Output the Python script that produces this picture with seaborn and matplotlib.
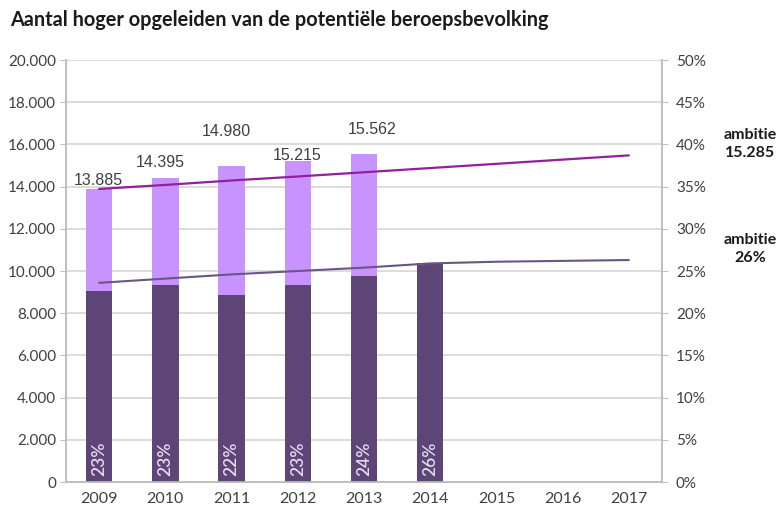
import numpy as np
import pandas as pd
import seaborn as sns
import matplotlib.pyplot as plt
from matplotlib.ticker import FixedLocator

# Gegevens
jaren = ['2009', '2010', '2011', '2012', '2013', '2014', '2015', '2016', '2017']
aantal_jaren = ['2009', '2010', '2011', '2012', '2013']
aantal = [13885, 14395, 14980, 15215, 15562]
aantal_labels = ['13.885', '14.395', '14.980', '15.215', '15.562']
aandeel_jaren = ['2009', '2010', '2011', '2012', '2013', '2014']
aandeel = [22.6, 23.4, 22.2, 23.4, 24.4, 26.0]
aandeel_labels = ['23%', '23%', '22%', '23%', '24%', '26%']
ambitie_aantal = [13890, 14080, 14290, 14480, 14680, 14880, 15080, 15280, 15480]
ambitie_aandeel = [23.6, 24.1, 24.6, 25.0, 25.4, 25.9, 26.1, 26.2, 26.3]
links_ticks = [0, 2000, 4000, 6000, 8000, 10000, 12000, 14000, 16000, 18000, 20000]
links_labels = ['0', '2.000', '4.000', '6.000', '8.000', '10.000', '12.000',
                '14.000', '16.000', '18.000', '20.000']
rechts_ticks = [0, 5, 10, 15, 20, 25, 30, 35, 40, 45, 50]
rechts_labels = ['0%', '5%', '10%', '15%', '20%', '25%', '30%', '35%', '40%', '45%', '50%']

# Positie van de waardelabels boven de lichte staven (punten)
label_offsets = [(-0.7, 5.8), (-3.6, 11.5), (-3.6, 25), (-0.7, 4.3), (5.8, 17.3)]

sns.set_style('white')
plt.rcParams['font.family'] = ['Lato', 'DejaVu Sans']

licht = '#c993ff'
donker = '#5d4577'
magenta = '#931f9c'
lijn_donker = '#6b5585'
grijs = '#404040'

df_aantal = pd.DataFrame({'jaar': aantal_jaren, 'aantal': aantal})
df_aandeel = pd.DataFrame({'jaar': aandeel_jaren, 'aandeel': aandeel})
df_amb1 = pd.DataFrame({'jaar': jaren, 'waarde': ambitie_aantal})
df_amb2 = pd.DataFrame({'jaar': jaren, 'waarde': ambitie_aandeel})

fig = plt.figure(figsize=(7.8, 5.13), dpi=100)
ax = fig.add_axes([0.0846, 0.0604, 0.7641, 0.8226])
ax2 = ax.twinx()

sns.barplot(data=df_aantal, x='jaar', y='aantal', order=jaren, color=licht,
            saturation=1, width=0.4, errorbar=None, linewidth=0, ax=ax)
sns.pointplot(data=df_amb1, x='jaar', y='waarde', order=jaren, color=magenta,
              markers='', linestyles='-', errorbar=None, ax=ax)
for line in ax.lines:
    line.set_linewidth(1.6)

sns.barplot(data=df_aandeel, x='jaar', y='aandeel', order=jaren, color=donker,
            saturation=1, width=0.4, errorbar=None, linewidth=0, ax=ax2)
sns.pointplot(data=df_amb2, x='jaar', y='waarde', order=jaren, color=lijn_donker,
              markers='', linestyles='-', errorbar=None, ax=ax2)
for line in ax2.lines:
    line.set_linewidth(1.5)

ax.set_ylim(0, 20000)
ax2.set_ylim(0, 50)
ax.set_xlim(-0.5, len(jaren) - 0.5)

# Waardelabels boven de lichte staven
for jaar, val, lab, off in zip(aantal_jaren, aantal, aantal_labels, label_offsets):
    i = jaren.index(jaar)
    ax.annotate(lab, xy=(i, val), xytext=off, textcoords='offset points',
                ha='center', va='center', fontsize=11.5, color=grijs,
                family=['Liberation Sans', 'DejaVu Sans'])

# Percentages in de donkere staven
for jaar, lab in zip(aandeel_jaren, aandeel_labels):
    i = jaren.index(jaar)
    ax2.annotate(lab, xy=(i, 0), xytext=(0, 4.5), textcoords='offset points',
                 ha='center', va='bottom', rotation=90, fontsize=12.5,
                 fontweight='semibold', color='#e4daee')

# Assen
ax.yaxis.set_major_locator(FixedLocator(links_ticks))
ax.set_yticklabels(links_labels)
ax2.yaxis.set_major_locator(FixedLocator(rechts_ticks))
ax2.set_yticklabels(rechts_labels)
ax.set_xlabel('')
ax.set_ylabel('')
ax2.set_xlabel('')
ax2.set_ylabel('')

ax.grid(axis='y', color='#d9d9d9', linewidth=1.3)
ax.set_axisbelow(True)
ax2.grid(False)

for a in (ax, ax2):
    for s in a.spines.values():
        s.set_color('#bfbfbf')
        s.set_linewidth(1.2)
    a.spines['top'].set_visible(False)

ax.tick_params(axis='y', length=4, color='#bfbfbf', labelsize=11, labelcolor=grijs, pad=3)
ax2.tick_params(axis='y', length=4, color='#bfbfbf', labelsize=11, labelcolor=grijs, pad=6)
ax.tick_params(axis='x', length=0, labelsize=11.5, labelcolor=grijs, pad=7)
ax.set_xticks(np.arange(len(jaren) + 1) - 0.5, minor=True)
ax.tick_params(axis='x', which='minor', length=5, color='#bfbfbf')

fig.text(0.013, 0.961, 'Aantal hoger opgeleiden van de potentiële beroepsbevolking',
         ha='left', va='center', fontsize=14.3, fontweight='bold', color='#1a1a1a')
fig.text(0.962, 0.720, 'ambitie\n15.285', ha='center', va='center', fontsize=11.5,
         fontweight='bold', color='#1a1a1a', linespacing=1.35)
fig.text(0.962, 0.5146, 'ambitie\n26%', ha='center', va='center', fontsize=11.5,
         fontweight='bold', color='#1a1a1a', linespacing=1.35)

fig.savefig('out.png', dpi=100)
